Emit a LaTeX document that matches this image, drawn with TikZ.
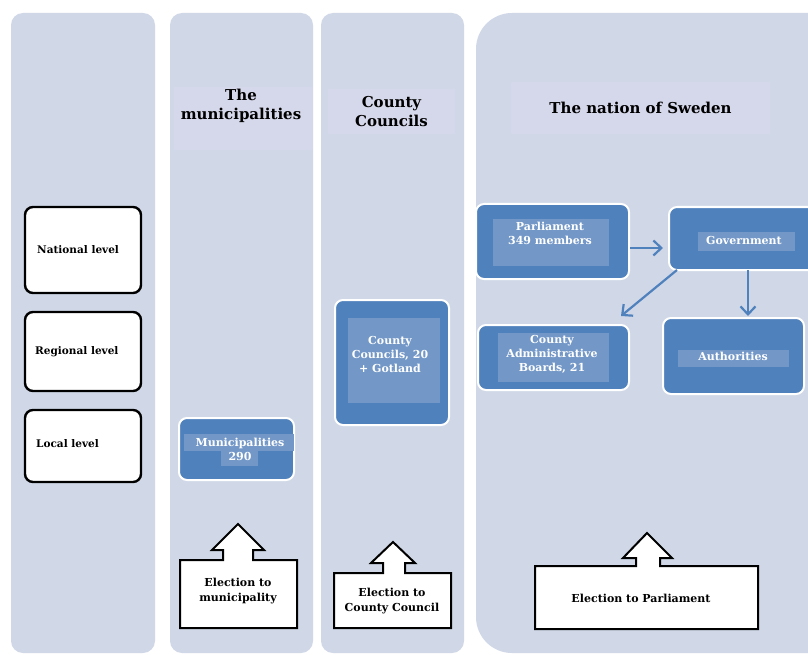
\documentclass[tikz,border=0pt]{standalone}
\usepackage{fontspec}
\setmainfont{DejaVu Serif}
\usetikzlibrary{arrows.meta}
\definecolor{colbg}{HTML}{D0D7E7}
\definecolor{titlebg}{HTML}{D5D7EA}
\definecolor{boxblue}{HTML}{4F81BD}
\definecolor{innerblue}{HTML}{7398C8}
\tikzset{
  column/.style={fill=colbg, draw=none, rounded corners=12},
  titlebox/.style={fill=titlebg, draw=none, inner sep=0pt, align=center, font=\bfseries\fontsize{15}{19}\selectfont},
  levelbox/.style={draw=black, line width=2.4pt, fill=white, rounded corners=8, inner sep=0pt},
  leveltext/.style={font=\bfseries\fontsize{10.5}{12}\selectfont, anchor=west, inner sep=0pt},
  bluebox/.style={draw=white, line width=2pt, fill=boxblue, rounded corners=8, inner sep=0pt},
  innerbox/.style={fill=innerblue, draw=none, inner sep=0pt},
  whitetext/.style={text=white, font=\bfseries\fontsize{11}{14}\selectfont, align=center, inner sep=0pt},
  conn/.style={draw=boxblue, line width=2.2pt, -{Straight Barb[length=8pt, width=15pt, line width=2.2pt]}},
  callout/.style={draw=black, line width=2pt, fill=white, line join=miter},
  calltext/.style={font=\bfseries\fontsize{11}{15}\selectfont, align=center, inner sep=0pt}
}
\begin{document}
\begin{tikzpicture}[x=1pt, y=-1pt]
\useasboundingbox (0,0) rectangle (808,655);
\clip (0,0) rectangle (808,655);
\fill[white] (0,0) rectangle (808,655);
% columns
\path[column] (11,13) rectangle (155,653);
\path[column] (170,13) rectangle (313,653);
\path[column] (321,13) rectangle (464,653);
\fill[colbg, rounded corners=36] (476,13) rectangle (900,653);
% titles
\node[titlebox, minimum width=139, minimum height=63] (t2) at (243.5,118.5) {};
\node[font=\bfseries\fontsize{15}{19}\selectfont, align=center, inner sep=0pt] (t2txt) at (241,106) {The\\municipalities};
\node[titlebox, minimum width=127, minimum height=45] (t3) at (391.5,112) {County\\Councils};
\node[titlebox, minimum width=259, minimum height=52] (t4) at (640.5,108) {The nation of Sweden};
% level boxes
\node[levelbox, minimum width=116, minimum height=86] (nat) at (83,250) {};
\node[leveltext] at (37,250) {National level};
\node[levelbox, minimum width=116, minimum height=79] (reg) at (83,351.5) {};
\node[leveltext] at (35,351.5) {Regional level};
\node[levelbox, minimum width=116, minimum height=72] (loc) at (83,446) {};
\node[leveltext] at (36,444) {Local level};
% municipalities
\node[bluebox, minimum width=115, minimum height=62] (mun) at (236.5,449) {};
\node[innerbox, minimum width=110, minimum height=17] (munin) at (239,442) {};
\node[innerbox, minimum width=37, minimum height=15] (munin2) at (239.5,458.5) {};
\node[whitetext] at (240,449) {Municipalities\\290};
% county councils
\node[bluebox, minimum width=114, minimum height=125] (cc) at (392,362.5) {};
\node[innerbox, minimum width=92, minimum height=85] (ccin) at (394,360.5) {};
\node[whitetext] at (390,354) {County\\Councils, 20\\+ Gotland};
% parliament
\node[bluebox, minimum width=153, minimum height=75] (parl) at (552.5,241.5) {};
\node[innerbox, minimum width=116, minimum height=47] (parlin) at (551,242) {};
\node[whitetext] at (550,233) {Parliament\\349 members};
% government
\node[bluebox, minimum width=160, minimum height=63, anchor=west] (gov) at (668,238.5) {};
\node[innerbox, minimum width=97, minimum height=19] (govin) at (746.5,241.5) {};
\node[whitetext] at (744,240) {Government};
% county admin boards
\node[bluebox, minimum width=151, minimum height=65] (cab) at (553.5,357.5) {};
\node[innerbox, minimum width=111, minimum height=49] (cabin) at (553.5,357.5) {};
\node[whitetext] at (552,354) {County\\Administrative\\Boards, 21};
% authorities
\node[bluebox, minimum width=141, minimum height=76] (auth) at (733.5,356) {};
\node[innerbox, minimum width=111, minimum height=17] (authin) at (733.5,358.5) {};
\node[whitetext] at (733,356) {Authorities};
% connectors
\coordinate (pg1) at (630,248);
\coordinate (pg2) at (663,248);
\draw[conn] (pg1) -- (pg2);
\coordinate (gc1) at (677,270);
\coordinate (gc2) at (621,316);
\draw[conn] (gc1) -- (gc2);
\coordinate (govb) at (748,270);
\coordinate (autht) at (748,316);
\draw[conn] (govb) -- (autht);
% election callouts
\draw[callout] (180,560) -- (223,560) -- (223,550) -- (212,550) -- (238,524) -- (264,550) -- (253,550) -- (253,560) -- (297,560) -- (297,628) -- (180,628) -- cycle;
\node[calltext] (em) at (238,591) {Election to\\municipality};
\draw[callout] (334,573) -- (383,573) -- (383,563) -- (371,563) -- (393,542) -- (415,563) -- (405,563) -- (405,573) -- (451,573) -- (451,628) -- (334,628) -- cycle;
\node[calltext] (ec) at (392,601) {Election to\\County Council};
\draw[callout] (535,566) -- (636,566) -- (636,558) -- (623,558) -- (647,533) -- (672,558) -- (660,558) -- (660,566) -- (758,566) -- (758,629) -- (535,629) -- cycle;
\node[calltext] (ep) at (641,598) {Election to Parliament};
\end{tikzpicture}
\end{document}
